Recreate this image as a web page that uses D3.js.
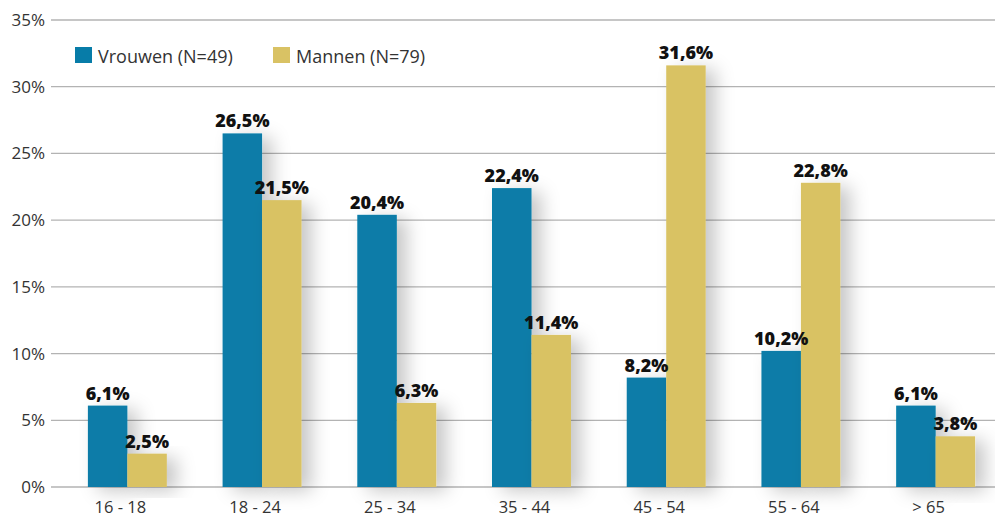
<!DOCTYPE html>
<html><head><meta charset="utf-8">
<script src="https://cdn.jsdelivr.net/npm/d3@7"></script>
<style>body{margin:0;background:#fff}svg{display:block}text{font-family:"Open Sans",Lato,sans-serif}</style>
</head><body><svg id="c" width="995" height="518"></svg>
<script>
const categories = ["16 - 18","18 - 24","25 - 34","35 - 44","45 - 54","55 - 64","> 65"];
const vrouwen = [6.1,26.5,20.4,22.4,8.2,10.2,6.1];
const mannen = [2.5,21.5,6.3,11.4,31.6,22.8,3.8];
const seriesNames = ["Vrouwen (N=49)","Mannen (N=79)"];
const colors = ["#077ca8","#d9c264"];
const yTicks = [0,5,10,15,20,25,30,35];

const svg = d3.select("#c");
const defs = svg.append("defs");
const f = defs.append("filter").attr("id","sh").attr("x","-60%").attr("y","-20%").attr("width","280%").attr("height","150%");
f.append("feDropShadow").attr("dx",10).attr("dy",4).attr("stdDeviation",9).attr("flood-color","#000").attr("flood-opacity",0.22);

const y = d3.scaleLinear().domain([0,35]).range([487,20]);
const x = d3.scaleBand().domain(categories).range([60,1003]).padding(0);
const bw = x.bandwidth()*0.293;

// grid
svg.append("g").selectAll("line").data(yTicks).join("line")
  .attr("x1",51).attr("x2",995).attr("y1",d=>y(d)).attr("y2",d=>y(d))
  .attr("stroke","#b3b3b3").attr("stroke-width",1.3);
svg.append("g").selectAll("text").data(yTicks).join("text")
  .attr("x",45).attr("y",d=>y(d)+6).attr("text-anchor","end")
  .attr("font-size",17).attr("fill","#333").text(d=>d+"%");

const series = [vrouwen, mannen];
const fmt = v => v.toFixed(1).replace(".",",")+"%";
series.forEach((vals,si)=>{
  const g = svg.append("g");
  g.selectAll("rect").data(vals).join("rect")
    .attr("x",(d,i)=>x(categories[i])+x.bandwidth()/2 + (si===0?-bw:0))
    .attr("width",bw)
    .attr("y",d=>y(d)).attr("height",d=>y(0)-y(d))
    .attr("fill",colors[si]).attr("filter","url(#sh)");
});
series.forEach((vals,si)=>{
  svg.append("g").selectAll("text").data(vals).join("text")
    .attr("x",(d,i)=>x(categories[i])+x.bandwidth()/2 + (si===0?-bw/2:bw/2))
    .attr("y",d=>y(d)-6).attr("text-anchor","middle")
    .attr("font-size",18).attr("font-weight","800").attr("fill","#111")
    .text(fmt);
});
// x labels
svg.append("g").selectAll("text").data(categories).join("text")
  .attr("x",d=>x(d)+x.bandwidth()/2-7).attr("y",513).attr("text-anchor","middle")
  .attr("font-size",16.5).attr("fill","#333").text(d=>d);

// legend
const lx = [75,273];
seriesNames.forEach((n,i)=>{
  svg.append("rect").attr("x",lx[i]).attr("y",47).attr("width",17).attr("height",16).attr("fill",colors[i]);
  svg.append("text").attr("x",lx[i]+23).attr("y",63).attr("font-size",18).attr("fill","#333").text(n);
});
</script></body></html>
